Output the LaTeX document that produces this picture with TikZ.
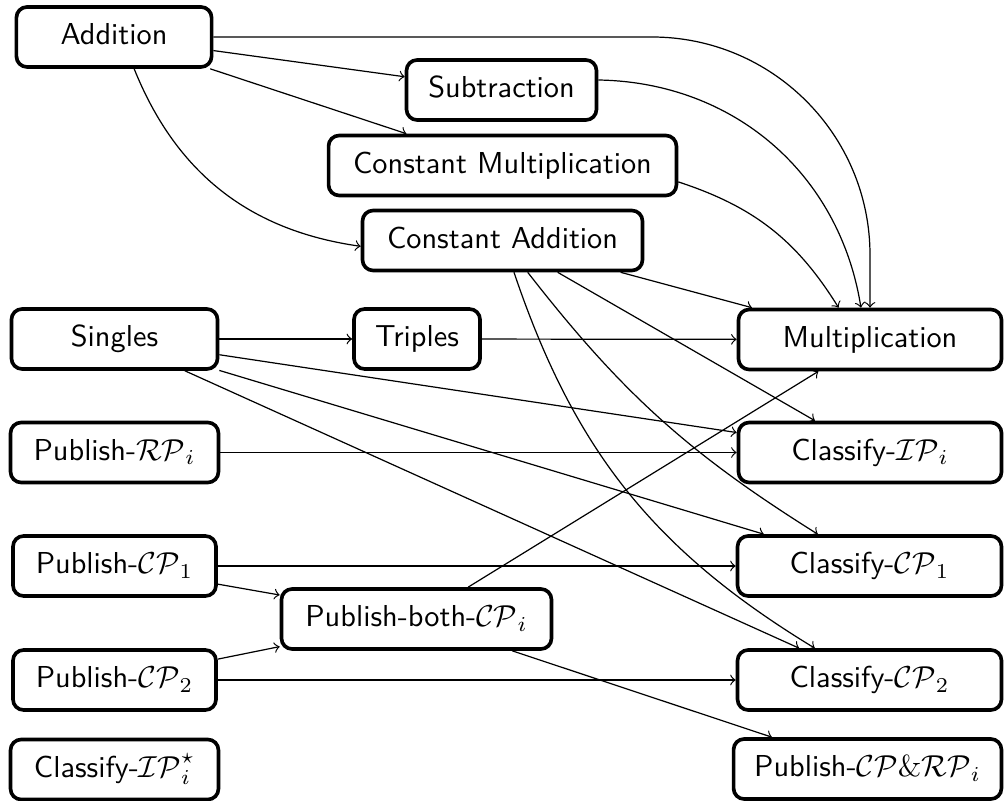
\documentclass[tikz,border=0pt]{standalone}
\usetikzlibrary{arrows}
\begin{document}
\begin{tikzpicture}[x=0.33pt,y=-0.33pt,
  box/.style={draw, line width=1.2pt, rounded corners=3.5pt, font=\sffamily,
    minimum height=19.8pt, text height=7pt, text depth=2pt, inner xsep=6pt},
  conn/.style={->}]
\useasboundingbox (0,0) rectangle (1004,801);

% operation nodes
\node[box, minimum width=64.4pt]  (add)   at (114,37)      {Addition};
\node[box, minimum width=62.7pt]  (sub)   at (501.5,90)    {Subtraction};
\node[box, minimum width=114.8pt] (cm)    at (502.5,165.5) {Constant Multiplication};
\node[box, minimum width=92.4pt]  (ca)    at (502.5,240.5) {Constant Addition};
\node[box, minimum width=68pt]    (sing)  at (114.5,339)   {Singles};
\node[box, minimum width=41.6pt]  (trip)  at (417,339)     {Triples};
\node[box, minimum width=86.8pt]  (mul)   at (870,339.5)   {Multiplication};
\node[box, minimum width=68.6pt]  (prp)   at (114.5,452.5) {Publish-$\mathcal{RP}_i$};
\node[box, minimum width=86.8pt]  (cip)   at (870,452.5)   {Classify-$\mathcal{IP}_i$};
\node[box, minimum width=67pt]    (pcp1)  at (114.5,566)   {Publish-$\mathcal{CP}_1$};
\node[box, minimum width=87.1pt]  (ccp1)  at (869.5,566)   {Classify-$\mathcal{CP}_1$};
\node[box, minimum width=89.1pt]  (pboth) at (416.5,619)   {Publish-both-$\mathcal{CP}_i$};
\node[box, minimum width=67pt]    (pcp2)  at (114.5,680)   {Publish-$\mathcal{CP}_2$};
\node[box, minimum width=87.1pt]  (ccp2)  at (869.5,680)   {Classify-$\mathcal{CP}_2$};
\node[box, minimum width=68.6pt]  (cips)  at (114.5,769.5) {Classify-$\mathcal{IP}_i^\star$};
\node[box, minimum width=88.4pt]  (pcprp) at (867.5,769)   {Publish-$\mathcal{CP}\&\mathcal{RP}_i$};

% dependencies
\draw[conn] (add) -- (sub);
\draw[conn] (add) -- (cm);
\draw[conn] (add) to[bend right=30] (ca);
\draw[conn, rounded corners=72pt] (add) -| (mul);
\draw[conn] (sub) to[bend left=40] (mul);
\draw[conn] (cm) to[bend left=20] (mul);
\draw[conn] (ca) -- (mul);
\draw[conn] (ca) -- (cip);
\draw[conn] (ca) to[bend right=10] (ccp1);
\draw[conn] (ca) to[bend right=20] (ccp2);
\draw[conn] (sing) -- (trip);
\draw[conn] (sing) -- (cip);
\draw[conn] (sing) -- (ccp1);
\draw[conn] (sing) -- (ccp2);
\draw[conn] (trip) -- (mul);
\draw[conn] (prp) -- (cip);
\draw[conn] (pcp1) -- (ccp1);
\draw[conn] (pcp1) -- (pboth);
\draw[conn] (pcp2) -- (pboth);
\draw[conn] (pcp2) -- (ccp2);
\draw[conn] (pboth) -- (mul);
\draw[conn] (pboth) -- (pcprp);
\end{tikzpicture}
\end{document}
